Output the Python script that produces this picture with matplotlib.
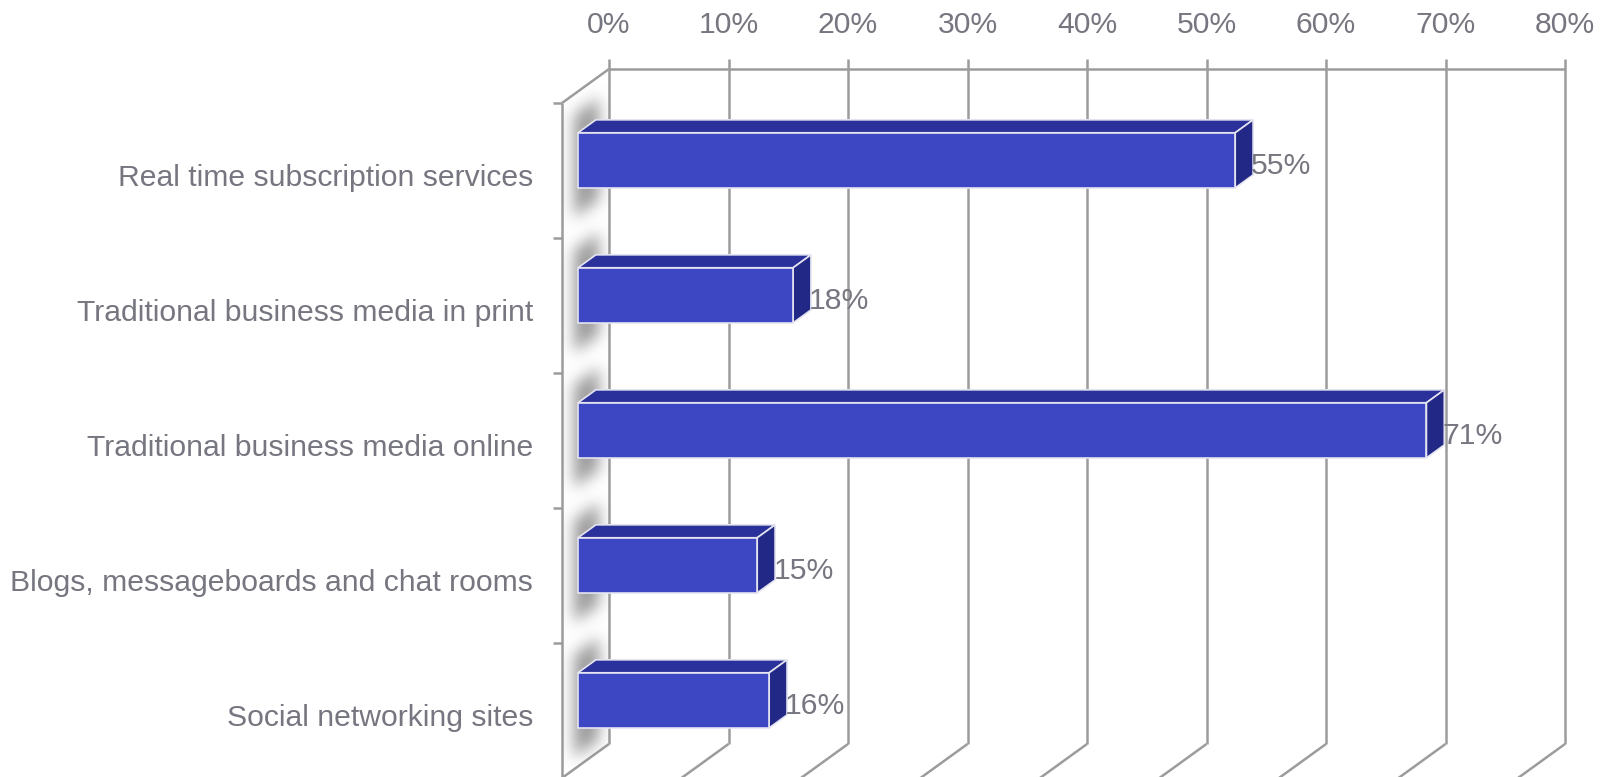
import numpy as np
import matplotlib.pyplot as plt
from matplotlib.patches import Polygon

categories = ["Real time subscription services",
              "Traditional business media in print",
              "Traditional business media online",
              "Blogs, messageboards and chat rooms",
              "Social networking sites"]
values = [55, 18, 71, 15, 16]
ticks = [0, 10, 20, 30, 40, 50, 60, 70, 80]
tick_labels = ["%d%%" % t for t in ticks]

plt.rcParams['font.family'] = ['Liberation Sans', 'DejaVu Sans']
TXT = '#767680'
GRID = '#9c9c9c'
FRONT, TOP, SIDE = '#3d47c4', '#2a319b', '#222886'
EDGE = '#e4e4f0'
FS = 21.7

W, H = 1610, 777
fig = plt.figure(figsize=(W / 100, H / 100), dpi=100)
ax = fig.add_axes([0, 0, 1, 1])
ax.axis('off')

# oblique 3d: x in percent, y in category rows, depth 0 = front, 1 = back wall
PX = 11.95
ROW = 135.0
X0, Y0 = 562, 103
DX = 47 / PX
DY = 34 / ROW
xlim = (-X0 / PX, (W - X0) / PX)
ylim = ((H - Y0) / ROW, -Y0 / ROW)
n = len(categories)


def P(v, c, d):
    return (v + d * DX, c - d * DY)


def line(a, b, **kw):
    ax.plot([a[0], b[0]], [a[1], b[1]], color=GRID, lw=1.8,
            solid_capstyle='butt', zorder=1, **kw)


# back wall gridlines + floor diagonals
for t in ticks:
    line(P(t, -10 / ROW, 1), P(t, n, 1))
    line(P(t, n, 1), P(t, n, 0))
line(P(0, 0, 1), P(ticks[-1], 0, 1))
# left wall
line(P(0, 0, 0), P(0, 0, 1))
line(P(0, 0, 0), P(0, n + 0.1, 0))
for c in range(n + 1):
    line(P(-9 / PX, c, 0), P(0, c, 0))

d0, d1 = 0.34, 0.72
half = 0.204

# soft shadows of the bar ends on the left wall
gx = np.arange(540, 640)
gy = np.arange(0, H)
XX, YY = np.meshgrid(gx + 0.5, gy + 0.5)
dd = (XX - X0) / 47.0
cc = (YY - Y0) / ROW + dd * DY
mask = np.zeros_like(XX)
for i in range(n):
    ctr = i + 0.51
    inside = ((dd >= d0 - 0.08) & (dd <= d1 + 0.06) &
              (cc >= ctr - half - 0.15) & (cc <= ctr + half + 0.2))
    mask[inside] = 1.0
sig = 7.5
k = np.arange(-30, 31)
ker = np.exp(-k ** 2 / (2 * sig ** 2))
ker /= ker.sum()
blur = np.apply_along_axis(lambda r: np.convolve(r, ker, mode='same'), 1, mask)
blur = np.apply_along_axis(lambda r: np.convolve(r, ker, mode='same'), 0, blur)
rgba = np.zeros(blur.shape + (4,))
rgba[..., :3] = 0.5
rgba[..., 3] = np.clip(blur * 0.8, 0, 1)
ext = ((gx[0] - X0) / PX, (gx[-1] + 1 - X0) / PX,
       (gy[-1] + 1 - Y0) / ROW, (gy[0] - Y0) / ROW)
im = ax.imshow(rgba, extent=ext, origin='upper', aspect='auto', zorder=2,
               interpolation='bilinear')
wall = Polygon([P(0, 0, 0), P(0, 0, 1), P(0, n, 1), P(0, n, 0)],
               closed=True, transform=ax.transData, fill=False, lw=0)
im.set_clip_path(wall)

# bars
for i, (cat, v) in enumerate(zip(categories, values)):
    top = i + 0.51 - half
    bot = i + 0.51 + half
    faces = [
        ([P(0, top, d0), P(v, top, d0), P(v, top, d1), P(0, top, d1)], TOP),
        ([P(v, top, d0), P(v, top, d1), P(v, bot, d1), P(v, bot, d0)], SIDE),
        ([P(0, top, d0), P(v, top, d0), P(v, bot, d0), P(0, bot, d0)], FRONT),
    ]
    for pts, col in faces:
        ax.add_patch(Polygon(pts, closed=True, facecolor=col, edgecolor=EDGE,
                             lw=1.2, joinstyle='miter', zorder=3))
    lx = P(v, 0, d1)[0] - 0.15
    ly = P(v, i + 0.51, d0)[1] + 0.045
    ax.text(lx, ly, "%d%%" % v, ha='left', va='center', fontsize=FS,
            color=TXT, zorder=4)
    ax.text(-29 / PX, i + 0.555, cat, ha='right', va='center', fontsize=FS,
            color=TXT, zorder=4)

for t, lab in zip(ticks, tick_labels):
    ax.text(P(t, 0, 1)[0], -78 / ROW, lab, ha='center', va='center',
            fontsize=FS, color=TXT)

ax.set_xlim(*xlim)
ax.set_ylim(*ylim)
fig.savefig('out.png', dpi=100, facecolor='white')
